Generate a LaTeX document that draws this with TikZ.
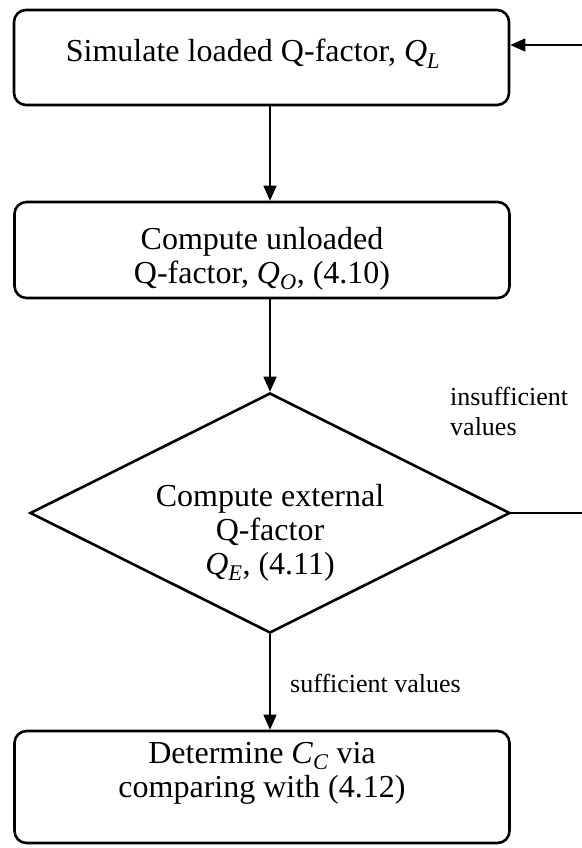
\documentclass[tikz,border=0pt]{standalone}
\usepackage{fontspec}
\setmainfont{Liberation Serif}
\usetikzlibrary{shapes.geometric,arrows.meta}
\newcommand\qsub[1]{\textsubscript{\itshape #1}}
\begin{document}
\begin{tikzpicture}[x=1pt,y=-1pt,
  stepbox/.style={draw, line width=2.6pt, rounded corners=12pt,
    minimum width=495pt, minimum height=95pt, inner sep=0pt},
  decision/.style={draw, shape=diamond, line width=2.6pt,
    minimum width=480pt, minimum height=240pt, inner sep=0pt},
  body/.style={font=\fontsize{32}{34}\selectfont, align=center, inner sep=0pt, anchor=base},
  note/.style={font=\fontsize{26}{30}\selectfont, align=left, inner sep=0pt, anchor=base west},
  conn/.style={line width=1.4pt},
  arr/.style={conn, -{Triangle[length=15pt,width=13pt]}}]
\useasboundingbox (0,0) rectangle (581,848);

% process boxes and the decision
\node[stepbox] (b1) at (261.5,57.5) {};
\node[stepbox, minimum height=96pt] (b2) at (262,250) {};
\node[decision] (d) at (270,513) {};
\node[stepbox, minimum height=112pt] (b4) at (262,787) {};

% texts (base anchor = baseline of the last line)
\node[body] (t1) at (253,62) {Simulate loaded Q-factor, \textit{Q}\qsub{L}};
\node[body] (t2) at (262,283) {Compute unloaded\\Q-factor, \textit{Q}\qsub{O}, (4.10)};
\node[body] (t3) at (270,574) {Compute external\\Q-factor\\\textit{Q}\qsub{E}, (4.11)};
\node[body] (t4) at (262,797) {Determine \textit{C}\qsub{C} via\\comparing with (4.12)};
\node[note] (l1) at (450,435) {insufficient\\values};
\node[note] (l2) at (290,692) {sufficient values};

% flow
\coordinate (a1) at (270,0);
\draw[arr] (b1.south -| a1) -- (b2.north -| a1);
\draw[arr] (b2.south -| a1) -- (d.north);
\draw[arr] (d.south) -- (b4.north -| d.south);

% loop back to the start
\coordinate (r1) at (600,513);
\coordinate (r2) at (600,45);
\draw[arr] (d.east) -- (r1) -- (r2) -- (r2 -| b1.east);
\end{tikzpicture}
\end{document}
